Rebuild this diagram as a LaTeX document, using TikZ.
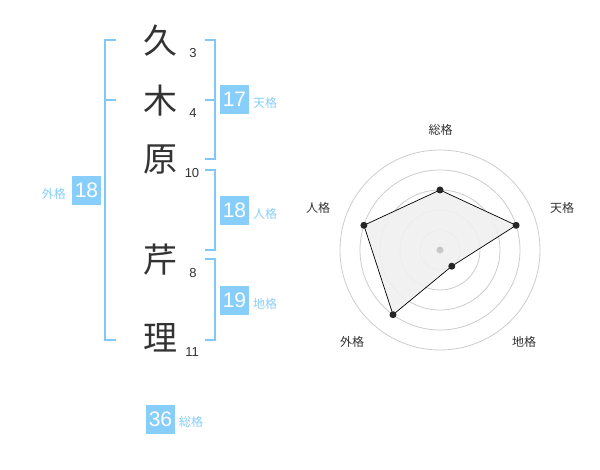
\documentclass[tikz,border=0pt]{standalone}
\usepackage{fontspec}
\setmainfont{Liberation Sans}
\newfontfamily\cjk{Noto Sans CJK JP}
\definecolor{skyb}{HTML}{87CEFA}
\definecolor{skyline}{HTML}{80C8F8}
\definecolor{ink}{HTML}{333333}
\definecolor{ring}{HTML}{CCCCCC}
\begin{document}
\begin{tikzpicture}[x=1pt,y=-1pt,
  kanji/.style={font=\cjk\fontsize{34}{34}\selectfont, text=ink, inner sep=0pt},
  strokes/.style={font=\fontsize{13}{13}\selectfont, text=ink, inner sep=0pt},
  numbox/.style={fill=skyb, text=white, minimum width=29pt, minimum height=29pt, inner sep=0pt, font=\fontsize{21}{21}\selectfont},
  kaku/.style={font=\cjk\fontsize{12}{12}\selectfont, text=skyb, inner sep=0pt},
  brk/.style={draw=skyline, line width=2pt},
  rlab/.style={font=\cjk\fontsize{12}{12}\selectfont, text=ink, inner sep=0pt},
  ringc/.style={draw=ring, line width=0.8pt},
  pt/.style={circle, fill=black!85, inner sep=0pt, minimum size=7pt}
]
\useasboundingbox (0,0) rectangle (600,470);
% characters
\node[kanji] (c1) at (160,41) {久};
\node[kanji] (c2) at (160,101) {木};
\node[kanji] (c3) at (160,160) {原};
\node[kanji] (c4) at (160,260) {芹};
\node[kanji] (c5) at (160,338) {理};
% stroke counts
\node[strokes] (s1) at (193,53) {3};
\node[strokes] (s2) at (193,113) {4};
\node[strokes] (s3) at (192,173) {10};
\node[strokes] (s4) at (193,273) {8};
\node[strokes] (s5) at (192,352) {11};
% brackets
\draw[brk] (116,40) -- (105,40) -- (105,340) -- (116,340);
\draw[brk] (105,100) -- (116,100);
\draw[brk] (205,40) -- (215,40) -- (215,159) -- (205,159);
\draw[brk] (205,100) -- (215,100);
\draw[brk] (205,170) -- (215,170) -- (215,250) -- (205,250);
\draw[brk] (205,259) -- (215,259) -- (215,340) -- (205,340);
% boxes and labels
\node[numbox] (b1) at (234.5,99.5) {17};
\node[kaku, anchor=west] (l1) at (253,103) {天格};
\node[numbox] (b2) at (234.5,210.5) {18};
\node[kaku, anchor=west] (l2) at (253,214) {人格};
\node[numbox] (b3) at (234.5,300.5) {19};
\node[kaku, anchor=west] (l3) at (253,304) {地格};
\node[numbox] (b4) at (86.5,190.5) {18};
\node[kaku, anchor=east] (l4) at (66,194) {外格};
\node[numbox] (b5) at (160.5,419.5) {36};
\node[kaku, anchor=west] (l5) at (179,422) {総格};
% radar
\coordinate (C) at (440,250);
\foreach \r in {20,40,60,80,100} \draw[ringc] (C) circle[radius=\r];
\coordinate (p1) at (440,190);
\coordinate (p2) at (516.1,225.3);
\coordinate (p3) at (451.8,266.2);
\coordinate (p4) at (393.0,314.7);
\coordinate (p5) at (363.9,225.3);
\filldraw[fill=black!6, fill opacity=0.9, draw=black, line width=0.7pt] (p1) -- (p2) -- (p3) -- (p4) -- (p5) -- cycle;
\fill[black!22] (C) circle[radius=3.5];
\foreach \p in {p1,p2,p3,p4,p5} \node[pt] at (\p) {};
\node[rlab] (r1) at (440.5,130) {総格};
\node[rlab] (r2) at (562,208) {天格};
\node[rlab] (r3) at (524,342) {地格};
\node[rlab] (r4) at (352,342) {外格};
\node[rlab] (r5) at (318,208) {人格};
\end{tikzpicture}
\end{document}
